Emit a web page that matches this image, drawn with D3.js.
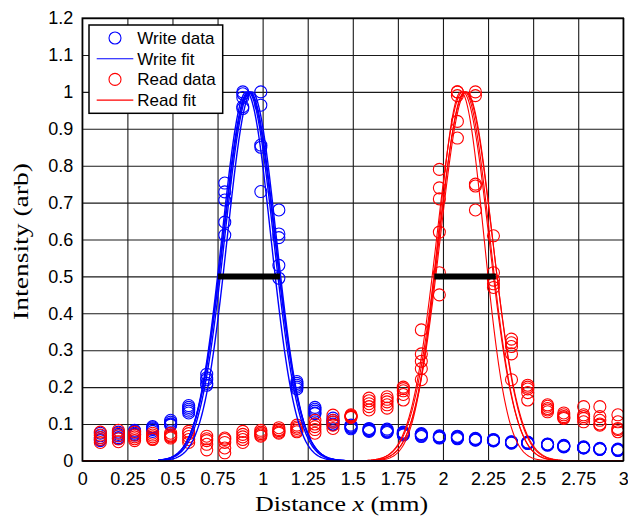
<!DOCTYPE html>
<html>
<head>
<meta charset="utf-8">
<script src="https://cdn.jsdelivr.net/npm/d3@7"></script>
<style>
  body { margin: 0; background: #fff; }
  .tick text { font-family: "Liberation Sans", Arial, sans-serif; }
</style>
</head>
<body>
<script>
// positions of the samples along x (mm)
var xPos = [0.10, 0.20, 0.29, 0.39, 0.49, 0.59, 0.69, 0.79, 0.89, 0.99,
            1.09, 1.19, 1.29, 1.39, 1.49, 1.59, 1.69, 1.78, 1.88, 1.98,
            2.08, 2.18, 2.28, 2.38, 2.47, 2.58, 2.67, 2.78, 2.87, 2.97];

// write data, all repeats at each position
var writeVals = [
  [0.075, 0.068, 0.063, 0.058, 0.055],
  [0.078, 0.072, 0.068, 0.063, 0.060],
  [0.083, 0.080, 0.075, 0.072, 0.070],
  [0.093, 0.090, 0.087, 0.085, 0.080],
  [0.110, 0.105, 0.100, 0.100, 0.097],
  [0.150, 0.145, 0.140, 0.135, 0.130],
  [0.235, 0.225, 0.220, 0.210, 0.205],
  [0.753, 0.729, 0.707, 0.647, 0.612],
  [1.000, 0.995, 0.985, 0.960, 0.955],
  [1.000, 0.964, 0.856, 0.850, 0.730],
  [0.680, 0.615, 0.605, 0.530, 0.495],
  [0.215, 0.210, 0.205, 0.200, 0.195],
  [0.145, 0.140, 0.135, 0.130, 0.128],
  [0.116, 0.110, 0.105, 0.100, 0.098],
  [0.097, 0.094, 0.092, 0.090, 0.087],
  [0.088, 0.086, 0.084, 0.082, 0.080],
  [0.086, 0.083, 0.081, 0.079, 0.077],
  [0.078, 0.076, 0.074, 0.072, 0.070],
  [0.074, 0.072, 0.070, 0.068, 0.066],
  [0.068, 0.066, 0.065, 0.063, 0.062],
  [0.067, 0.065, 0.063, 0.062, 0.060],
  [0.061, 0.060, 0.058, 0.057, 0.056],
  [0.058, 0.057, 0.056, 0.055, 0.054],
  [0.052, 0.051, 0.050, 0.049, 0.048],
  [0.051, 0.050, 0.049, 0.048, 0.047],
  [0.046, 0.045, 0.044, 0.043, 0.043],
  [0.042, 0.041, 0.040, 0.039, 0.038],
  [0.038, 0.037, 0.036, 0.035, 0.035],
  [0.034, 0.033, 0.032, 0.031, 0.031],
  [0.032, 0.031, 0.030, 0.029, 0.028]
];

// read data, all repeats at each position
var readVals = [
  [0.078, 0.070, 0.063, 0.058, 0.050],
  [0.083, 0.075, 0.068, 0.060, 0.052],
  [0.078, 0.070, 0.065, 0.060, 0.055],
  [0.075, 0.070, 0.065, 0.060, 0.058],
  [0.075, 0.070, 0.068, 0.065, 0.062],
  [0.080, 0.074, 0.066, 0.058, 0.050],
  [0.067, 0.060, 0.055, 0.045, 0.030],
  [0.062, 0.058, 0.050, 0.035, 0.022],
  [0.080, 0.072, 0.065, 0.058, 0.050],
  [0.083, 0.078, 0.074, 0.070, 0.067],
  [0.090, 0.085, 0.082, 0.078, 0.075],
  [0.097, 0.092, 0.088, 0.083, 0.079],
  [0.110, 0.100, 0.093, 0.085, 0.075],
  [0.124, 0.110, 0.105, 0.097, 0.088],
  [0.125, 0.123, 0.120, 0.120, 0.118],
  [0.170, 0.163, 0.155, 0.147, 0.138],
  [0.174, 0.167, 0.160, 0.152, 0.143],
  [0.200, 0.196, 0.190, 0.180, 0.165],
  [0.355, 0.290, 0.270, 0.250, 0.220],
  [0.790, 0.740, 0.710, 0.620, 0.510, 0.450],
  [1.000, 1.000, 0.990, 0.920, 0.875],
  [1.000, 0.990, 0.750, 0.745, 0.680],
  [0.610, 0.510, 0.490, 0.480, 0.470],
  [0.330, 0.320, 0.310, 0.290, 0.220],
  [0.205, 0.200, 0.195, 0.185, 0.165],
  [0.152, 0.148, 0.142, 0.138, 0.133],
  [0.130, 0.125, 0.120, 0.117, 0.115],
  [0.147, 0.125, 0.120, 0.115, 0.106],
  [0.147, 0.120, 0.110, 0.100, 0.097],
  [0.125, 0.106, 0.088, 0.085, 0.079]
];

// gaussian fit parameters (centre, fwhm) for each repeat
var writeCentres = [0.910, 0.920, 0.925, 0.930, 0.940];
var writeFwhm    = [0.320, 0.330, 0.335, 0.330, 0.320];
var readCentres  = [2.100, 2.110, 2.120, 2.125, 2.130];
var readFwhm     = [0.300, 0.340, 0.330, 0.350, 0.340];

// FWHM bars [x0, x1] at half maximum
var fwhmBars = [[0.751, 1.096], [1.952, 2.293]];

var xTicks = [0, 0.25, 0.5, 0.75, 1, 1.25, 1.5, 1.75, 2, 2.25, 2.5, 2.75, 3];
var xTickLabels = ["0", "0.25", "0.5", "0.75", "1", "1.25", "1.5", "1.75", "2", "2.25", "2.5", "2.75", "3"];
var yTicks = [0, 0.1, 0.2, 0.3, 0.4, 0.5, 0.6, 0.7, 0.8, 0.9, 1, 1.1, 1.2];
var yTickLabels = ["0", "0.1", "0.2", "0.3", "0.4", "0.5", "0.6", "0.7", "0.8", "0.9", "1", "1.1", "1.2"];

var legendItems = [
  {label: "Write data", color: "#0000ff", kind: "circle"},
  {label: "Write fit", color: "#0000ff", kind: "line"},
  {label: "Read data", color: "#ff0000", kind: "circle"},
  {label: "Read fit", color: "#ff0000", kind: "line"}
];

var width = 628;
var height = 520;
var margin = {top: 18.1, right: 4.7, bottom: 59.1, left: 82.3};
var w = width - margin.left - margin.right;
var h = height - margin.top - margin.bottom;

var svg = d3.select("body")
            .append("svg")
            .attr("width", width)
            .attr("height", height);

var g = svg.append("g")
           .attr("transform", "translate(" + margin.left + "," + margin.top + ")");

var x = d3.scaleLinear().domain([0, 3]).range([0, w]);
var y = d3.scaleLinear().domain([0, 1.2]).range([h, 0]);

// grid
g.append("g")
 .attr("class", "grid")
 .attr("transform", "translate(0," + h + ")")
 .call(d3.axisBottom(x).tickValues(xTicks).tickSize(-h).tickFormat(""))
 .call(function(s){ s.select(".domain").remove(); });
g.append("g")
 .attr("class", "grid")
 .call(d3.axisLeft(y).tickValues(yTicks).tickSize(-w).tickFormat(""))
 .call(function(s){ s.select(".domain").remove(); });
g.selectAll(".grid line")
 .attr("stroke", "#1a1a1a")
 .attr("stroke-width", 1.1);

// tick labels
var xAxis = g.append("g")
             .attr("transform", "translate(0," + h + ")")
             .call(d3.axisBottom(x).tickValues(xTicks).tickSize(0).tickPadding(11)
                     .tickFormat(function(d, i){ return xTickLabels[i]; }));
var yAxis = g.append("g")
             .call(d3.axisLeft(y).tickValues(yTicks).tickSize(0).tickPadding(9)
                     .tickFormat(function(d, i){ return yTickLabels[i]; }));
[xAxis, yAxis].forEach(function(a){
  a.select(".domain").remove();
  a.selectAll("text").attr("font-size", "18px").attr("fill", "#000");
});

// clip for the curves
g.append("clipPath").attr("id", "plotClip")
 .append("rect").attr("width", w).attr("height", h);

var plot = g.append("g").attr("clip-path", "url(#plotClip)");

// flatten the data into points
function toPoints(vals){
  var pts = [];
  vals.forEach(function(col, i){
    col.forEach(function(v){ pts.push({x: xPos[i], y: v}); });
  });
  return pts;
}

plot.selectAll(".wdot")
    .data(toPoints(writeVals))
    .enter()
    .append("circle")
    .attr("class", "wdot")
    .attr("cx", function(d){ return x(d.x); })
    .attr("cy", function(d){ return y(d.y); })
    .attr("r", 6)
    .attr("fill", "none")
    .attr("stroke", "#0000ff")
    .attr("stroke-width", 1.1);

plot.selectAll(".rdot")
    .data(toPoints(readVals))
    .enter()
    .append("circle")
    .attr("class", "rdot")
    .attr("cx", function(d){ return x(d.x); })
    .attr("cy", function(d){ return y(d.y); })
    .attr("r", 6)
    .attr("fill", "none")
    .attr("stroke", "#ff0000")
    .attr("stroke-width", 1.1);

// fitted gaussians
function fitCurve(c, fwhm, lo, hi){
  var s = fwhm / 2.3548;
  return d3.range(lo, hi + 0.0001, 0.004).map(function(t){
    return [t, Math.exp(-(t - c) * (t - c) / (2 * s * s))];
  });
}

var line = d3.line()
             .x(function(d){ return x(d[0]); })
             .y(function(d){ return y(d[1]); });

readCentres.forEach(function(c, i){
  plot.append("path")
      .attr("d", line(fitCurve(c, readFwhm[i], 0, 3)))
      .attr("fill", "none")
      .attr("stroke", "#ff0000")
      .attr("stroke-width", 1.1);
});

writeCentres.forEach(function(c, i){
  plot.append("path")
      .attr("d", line(fitCurve(c, writeFwhm[i], 0.42, 2.48)))
      .attr("fill", "none")
      .attr("stroke", "#0000ff")
      .attr("stroke-width", 1.4);
});

// FWHM markers
plot.selectAll(".fwhm")
    .data(fwhmBars)
    .enter()
    .append("line")
    .attr("x1", function(d){ return x(d[0]); })
    .attr("x2", function(d){ return x(d[1]); })
    .attr("y1", y(0.5))
    .attr("y2", y(0.5))
    .attr("stroke", "#000")
    .attr("stroke-width", 6);

// box
g.append("rect")
 .attr("width", w)
 .attr("height", h)
 .attr("fill", "none")
 .attr("stroke", "#000")
 .attr("stroke-width", 1.5);

// legend
var lg = svg.append("g").attr("transform", "translate(89,25)");
lg.append("rect")
  .attr("width", 133.7)
  .attr("height", 88.3)
  .attr("fill", "#fff")
  .attr("stroke", "#000")
  .attr("stroke-width", 1.5);

var rows = lg.selectAll(".lrow")
             .data(legendItems)
             .enter()
             .append("g")
             .attr("transform", function(d, i){ return "translate(0," + (13 + i * 20.7) + ")"; });

rows.filter(function(d){ return d.kind === "circle"; })
    .append("circle")
    .attr("cx", 26)
    .attr("cy", 0)
    .attr("r", 6)
    .attr("fill", "none")
    .attr("stroke", function(d){ return d.color; })
    .attr("stroke-width", 1.1);

rows.filter(function(d){ return d.kind === "line"; })
    .append("line")
    .attr("x1", 7.7)
    .attr("x2", 44.3)
    .attr("stroke", function(d){ return d.color; })
    .attr("stroke-width", 1.1);

rows.append("text")
    .attr("x", 48.3)
    .attr("dy", "0.35em")
    .attr("font-family", "Liberation Sans, Arial, sans-serif")
    .attr("font-size", "17px")
    .text(function(d){ return d.label; });

// axis labels
var xl = svg.append("text")
            .attr("x", 341.6)
            .attr("y", 511)
            .attr("text-anchor", "middle")
            .attr("font-family", "Liberation Serif, Times New Roman, serif")
            .attr("font-size", "22px")
            .attr("textLength", 173)
            .attr("lengthAdjust", "spacingAndGlyphs");
xl.append("tspan").text("Distance ");
xl.append("tspan").attr("font-style", "italic").text("x");
xl.append("tspan").text(" (mm)");

svg.append("text")
   .attr("transform", "translate(28,241.5) rotate(-90)")
   .attr("text-anchor", "middle")
   .attr("font-family", "Liberation Serif, Times New Roman, serif")
   .attr("font-size", "22px")
   .attr("textLength", 157)
   .attr("lengthAdjust", "spacingAndGlyphs")
   .text("Intensity (arb)");
</script>
</body>
</html>
